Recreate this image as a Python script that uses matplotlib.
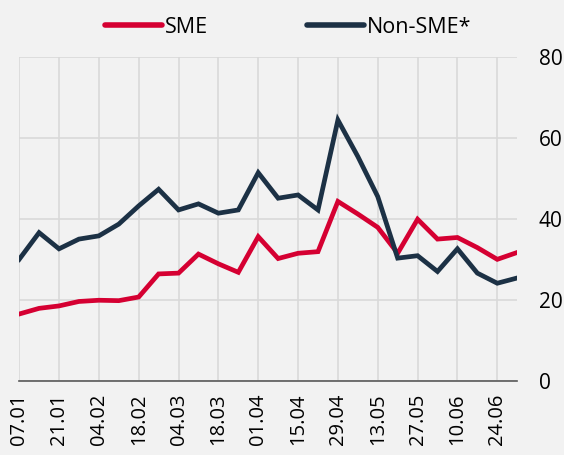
import matplotlib.pyplot as plt

plt.rcParams['font.family'] = ['Open Sans', 'DejaVu Sans']

# weekly dates
dates = ['07.01', '14.01', '21.01', '28.01', '04.02', '11.02', '18.02', '25.02',
         '04.03', '11.03', '18.03', '25.03', '01.04', '08.04', '15.04', '22.04',
         '29.04', '06.05', '13.05', '20.05', '27.05', '03.06', '10.06', '17.06',
         '24.06', '01.07']
sme = [16.5, 17.9, 18.5, 19.6, 19.9, 19.8, 20.7, 26.4, 26.6, 31.3, 28.9, 26.8, 35.6,
       30.2, 31.5, 31.9, 44.3, 41.2, 37.9, 31.5, 39.9, 35.0, 35.4, 32.9, 30.0, 31.7]
non_sme = [30.0, 36.6, 32.6, 35.0, 35.8, 38.7, 43.2, 47.3, 42.2, 43.7, 41.4, 42.2, 51.4,
           45.1, 45.9, 42.2, 64.4, 55.4, 45.5, 30.3, 30.9, 27.0, 32.6, 26.6, 24.1, 25.4]

bg = '#f2f2f2'
red = '#d50032'
navy = '#1c3145'

fig = plt.figure(figsize=(5.64, 4.55), dpi=100, facecolor=bg)
ax = fig.add_axes([0.034, 0.163, 0.883, 0.712], facecolor=bg)

x = list(range(len(dates)))
ax.plot(x, sme, color=red, lw=3.4, label='SME', solid_joinstyle='miter', zorder=3)
ax.plot(x, non_sme, color=navy, lw=3.4, label='Non-SME*', solid_joinstyle='miter', zorder=3)

ax.set_xlim(0, len(dates) - 1)
ax.set_ylim(0, 80)
ax.set_xticks(x[::2])
ax.set_xticklabels(dates[::2], rotation=90, fontsize=14.5)
ax.set_yticks([0, 20, 40, 60, 80])
ax.yaxis.tick_right()
ax.tick_params(axis='y', length=0, pad=15.5, labelsize=15)
ax.tick_params(axis='x', length=0, pad=9)
for lbl in ax.get_yticklabels():
    lbl.set_horizontalalignment('left')

ax.grid(True, color='#d9d9d9', lw=1.2, zorder=0)
for s in ['top', 'right', 'left']:
    ax.spines[s].set_visible(False)
ax.spines['bottom'].set_color('#595959')
ax.spines['bottom'].set_linewidth(1.2)
ax.spines['bottom'].set_zorder(4)

fig.legend(loc='center', bbox_to_anchor=(0.511, 0.94), ncol=2, frameon=False,
           fontsize=15.5, handlelength=2.65, handletextpad=0.12, columnspacing=4.6)
for h in fig.legends[0].get_lines():
    h.set_linewidth(4)
    h.set_solid_capstyle('round')

fig.savefig('out.png', dpi=100, facecolor=bg)
